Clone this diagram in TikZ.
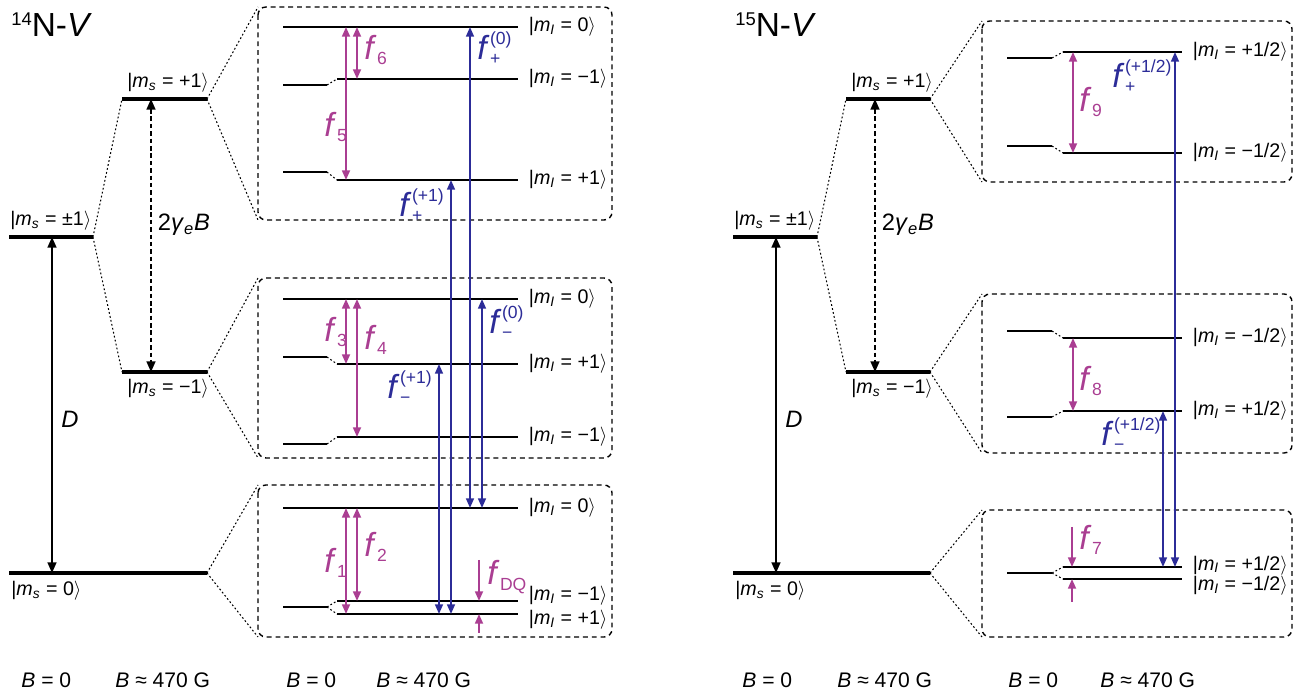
\documentclass[tikz,border=0pt]{standalone}
\usepackage{fontspec}
\setmainfont{Liberation Sans}
\usetikzlibrary{arrows.meta}

\definecolor{fmag}{RGB}{170,62,146}
\definecolor{fblue}{RGB}{44,44,152}

\newcommand{\msket}[1]{|\textit{m}\textsubscript{\textit{s}} = #1$\rangle$}
\newcommand{\miket}[1]{|\textit{m}\textsubscript{\textit{I}} = #1$\rangle$}
\newcommand{\fsm}[1]{{\fontsize{10}{10}\selectfont #1}}
\newcommand{\fn}[1]{\textit{f}\hspace{0.3pt}\raisebox{-3pt}{\fsm{#1}}}
\newcommand{\fpm}[2]{\textit{f}\hspace{0.3pt}\rlap{\raisebox{8.5pt}{\fsm{(#2)}}}\raisebox{-3pt}{\fsm{#1}}}

\tikzset{
  lvl/.style={line width=2.3pt},
  sublvl/.style={line width=1.1pt},
  conn/.style={line width=0.6pt, dash pattern=on 1pt off 1.3pt},
  zoombox/.style={line width=0.8pt, dash pattern=on 2.8pt off 2.2pt, rounded corners=4.5pt},
  darr/.style={line width=1pt, {Triangle[length=6pt,width=5pt]}-{Triangle[length=6pt,width=5pt]}},
  marr/.style={line width=1.1pt, fmag, {Triangle[length=5.5pt,width=4.5pt]}-{Triangle[length=5.5pt,width=4.5pt]}},
  mone/.style={line width=1.1pt, fmag, -{Triangle[length=5.5pt,width=4.5pt]}},
  barr/.style={line width=1pt, fblue, {Triangle[length=5.5pt,width=4.5pt]}-{Triangle[length=5.5pt,width=4.5pt]}},
  ket/.style={font=\fontsize{11.2}{13}\selectfont, inner sep=0pt},
  flab/.style={font=\fontsize{19}{21}\selectfont, inner sep=0pt},
  title/.style={font=\fontsize{19}{22}\selectfont, inner sep=0pt},
  blab/.style={font=\fontsize{12}{14}\selectfont, inner sep=0pt},
  big/.style={font=\fontsize{13.5}{16}\selectfont, inner sep=0pt},
}

\begin{document}
\begin{tikzpicture}[x=0.02cm, y=-0.02cm]
\useasboundingbox (0,0) rectangle (1296,692);

% ---------- 14N-V ----------
\node[title, anchor=base west] (t14) at (11,37) {\raisebox{6.5pt}{\fontsize{10.5}{11}\selectfont 14}N-\textit{V}};

\coordinate (Apml) at (9,237);  \coordinate (Apmr) at (93,237);
\coordinate (Apl) at (122,99);  \coordinate (Apr) at (207,99);
\coordinate (Aml) at (122,372); \coordinate (Amr) at (207,372);
\coordinate (A0l) at (9,573);   \coordinate (A0r) at (207,573);
\draw[lvl] (Apml) -- (Apmr);
\draw[lvl] (Apl) -- (Apr);
\draw[lvl] (Aml) -- (Amr);
\draw[lvl] (A0l) -- (A0r);
\draw[conn] (Apmr) -- (Apl) (Apmr) -- (Aml);
\node[ket, anchor=south west] (kApm) at (10,231) {\msket{±1}};
\node[ket, anchor=south west] (kAp) at (127,93) {\msket{+1}};
\node[ket, anchor=north west] (kAm) at (127,379) {\msket{−1}};
\node[ket, anchor=north west] (kA0) at (11,581) {\msket{0}};
\draw[darr] (52,0 |- Apml) -- (52,0 |- A0l);
\node[big] (dA) at (70,419) {\textit{D}};
\draw[darr, dash pattern=on 2.6pt off 1.6pt] (151,0 |- Apl) -- (151,0 |- Aml);
\node[big] (gA) at (184,225) {2\textit{γ}\textsubscript{\textit{e}}\textit{B}};

% ms = +1 manifold
\coordinate (B1a) at (258,7); \coordinate (B1b) at (612,220);
\draw[zoombox] (B1a) rectangle (B1b);
\draw[conn] (Apr) -- (B1a) (Apr) -- (B1a |- B1b);
\draw[sublvl] (283,27) -- (518,27) coordinate (u0);
\draw[sublvl] (283,85) -- (327,85) coordinate (umx);
\draw[sublvl] (337,79) coordinate (uml) -- (518,79) coordinate (um);
\draw[sublvl] (283,172) -- (327,172) coordinate (upx);
\draw[sublvl] (337,180) coordinate (upl) -- (518,180) coordinate (up);
\draw[conn] (umx) -- (uml) (upx) -- (upl);
\node[ket, anchor=west] (ku0) at ([xshift=6pt]u0) {\miket{0}};
\node[ket, anchor=west] (kum) at ([xshift=6pt]um) {\miket{−1}};
\node[ket, anchor=west] (kup) at ([xshift=6pt]up) {\miket{+1}};
\draw[marr] (346,0 |- u0) -- (346,0 |- up);
\draw[marr] (357,0 |- u0) -- (357,0 |- um);
\node[flab, fmag, anchor=west] (f5) at (324,127) {\fn{5}};
\node[flab, fmag, anchor=west] (f6) at (364,50) {\fn{6}};

% ms = -1 manifold
\coordinate (B2a) at (258,278); \coordinate (B2b) at (612,458);
\draw[zoombox] (B2a) rectangle (B2b);
\draw[conn] (Amr) -- (B2a) (Amr) -- (B2a |- B2b);
\draw[sublvl] (283,299) -- (518,299) coordinate (m0);
\draw[sublvl] (283,357) -- (327,357) coordinate (mpx);
\draw[sublvl] (337,364) coordinate (mpl) -- (518,364) coordinate (mp);
\draw[sublvl] (283,444) -- (327,444) coordinate (mmx);
\draw[sublvl] (337,437) coordinate (mml) -- (518,437) coordinate (mm);
\draw[conn] (mpx) -- (mpl) (mmx) -- (mml);
\node[ket, anchor=west] (km0) at ([xshift=6pt]m0) {\miket{0}};
\node[ket, anchor=west] (kmp) at ([xshift=6pt]mp) {\miket{+1}};
\node[ket, anchor=west] (kmm) at ([xshift=6pt]mm) {\miket{−1}};
\draw[marr] (346,0 |- m0) -- (346,0 |- mp);
\draw[marr] (357,0 |- m0) -- (357,0 |- mm);
\node[flab, fmag, anchor=west] (f3) at (324,332) {\fn{3}};
\node[flab, fmag, anchor=west] (f4) at (364,340) {\fn{4}};

% ms = 0 manifold
\coordinate (B3a) at (258,485); \coordinate (B3b) at (612,637);
\draw[zoombox] (B3a) rectangle (B3b);
\draw[conn] (A0r) -- (B3a) (A0r) -- (B3a |- B3b);
\draw[sublvl] (283,508) -- (518,508) coordinate (g0);
\draw[sublvl] (283,607) -- (327,607) coordinate (gx);
\draw[sublvl] (337,601) coordinate (gml) -- (518,601) coordinate (gm);
\draw[sublvl] (337,614) coordinate (gpl) -- (518,614) coordinate (gp);
\draw[conn] (gx) -- (gml) (gx) -- (gpl);
\node[ket, anchor=west] (kg0) at ([xshift=6pt]g0) {\miket{0}};
\node[ket, anchor=west] (kgm) at ([xshift=6pt, yshift=3pt]gm) {\miket{−1}};
\node[ket, anchor=west] (kgp) at ([xshift=6pt, yshift=-3.5pt]gp) {\miket{+1}};
\draw[marr] (346,0 |- g0) -- (346,0 |- gp);
\draw[marr] (357,0 |- g0) -- (357,0 |- gm);
\node[flab, fmag, anchor=west] (f1) at (324,563) {\fn{1}};
\node[flab, fmag, anchor=west] (f2) at (364,547) {\fn{2}};
\coordinate (dqa) at (479,560); \coordinate (dqb) at (479,633);
\draw[mone] (dqa) -- (479,0 |- gm);
\draw[mone] (dqb) -- (479,0 |- gp);
\node[flab, fmag, anchor=west] (fdq) at (487,577) {\fn{DQ}};

% nuclear-spin-conserving transitions
\draw[barr] (470,0 |- g0) -- (470,0 |- u0);
\draw[barr] (482,0 |- g0) -- (482,0 |- m0);
\draw[barr] (451,0 |- gp) -- (451,0 |- up);
\draw[barr] (439,0 |- gp) -- (439,0 |- mp);
\node[flab, fblue, anchor=west] (fp0) at (477,48) {\fpm{+}{0}};
\node[flab, fblue, anchor=west] (fm0) at (489,322) {\fpm{−}{0}};
\node[flab, fblue, anchor=west] (fpp) at (399,205) {\fpm{+}{+1}};
\node[flab, fblue, anchor=west] (fmp) at (387,387) {\fpm{−}{+1}};

% ---------- 15N-V ----------
\node[title, anchor=base west] (t15) at (735,37) {\raisebox{6.5pt}{\fontsize{10.5}{11}\selectfont 15}N-\textit{V}};

\coordinate (Cpml) at (733,237); \coordinate (Cpmr) at (817,237);
\coordinate (Cpl) at (846,99);   \coordinate (Cpr) at (930,99);
\coordinate (Cml) at (846,372);  \coordinate (Cmr) at (930,372);
\coordinate (C0l) at (733,573);  \coordinate (C0r) at (930,573);
\draw[lvl] (Cpml) -- (Cpmr);
\draw[lvl] (Cpl) -- (Cpr);
\draw[lvl] (Cml) -- (Cmr);
\draw[lvl] (C0l) -- (C0r);
\draw[conn] (Cpmr) -- (Cpl) (Cpmr) -- (Cml);
\node[ket, anchor=south west] (kCpm) at (734,231) {\msket{±1}};
\node[ket, anchor=south west] (kCp) at (851,93) {\msket{+1}};
\node[ket, anchor=north west] (kCm) at (851,379) {\msket{−1}};
\node[ket, anchor=north west] (kC0) at (735,581) {\msket{0}};
\draw[darr] (776,0 |- Cpml) -- (776,0 |- C0l);
\node[big] (dC) at (794,419) {\textit{D}};
\draw[darr, dash pattern=on 2.6pt off 1.6pt] (875,0 |- Cpl) -- (875,0 |- Cml);
\node[big] (gC) at (908,225) {2\textit{γ}\textsubscript{\textit{e}}\textit{B}};

% ms = +1 manifold
\coordinate (B4a) at (982,21); \coordinate (B4b) at (1292,182);
\draw[zoombox] (B4a) rectangle (B4b);
\draw[conn] (Cpr) -- (B4a) (Cpr) -- (B4a |- B4b);
\draw[sublvl] (1007,58) -- (1052,58) coordinate (rupx);
\draw[sublvl] (1063,52) coordinate (rupl) -- (1182,52) coordinate (rup);
\draw[sublvl] (1007,146) -- (1052,146) coordinate (rumx);
\draw[sublvl] (1063,153) coordinate (ruml) -- (1182,153) coordinate (rum);
\draw[conn] (rupx) -- (rupl) (rumx) -- (ruml);
\node[ket, anchor=west] (krup) at ([xshift=6pt]rup) {\miket{+1/2}};
\node[ket, anchor=west] (krum) at ([xshift=6pt]rum) {\miket{−1/2}};
\draw[marr] (1073,0 |- rup) -- (1073,0 |- rum);
\node[flab, fmag, anchor=west] (f9) at (1079,102) {\fn{9}};

% ms = -1 manifold
\coordinate (B5a) at (982,294); \coordinate (B5b) at (1292,453);
\draw[zoombox] (B5a) rectangle (B5b);
\draw[conn] (Cmr) -- (B5a) (Cmr) -- (B5a |- B5b);
\draw[sublvl] (1007,331) -- (1052,331) coordinate (rmmx);
\draw[sublvl] (1063,338) coordinate (rmml) -- (1182,338) coordinate (rmm);
\draw[sublvl] (1007,417) -- (1052,417) coordinate (rmpx);
\draw[sublvl] (1063,411) coordinate (rmpl) -- (1182,411) coordinate (rmp);
\draw[conn] (rmmx) -- (rmml) (rmpx) -- (rmpl);
\node[ket, anchor=west] (krmm) at ([xshift=6pt]rmm) {\miket{−1/2}};
\node[ket, anchor=west] (krmp) at ([xshift=6pt]rmp) {\miket{+1/2}};
\draw[marr] (1073,0 |- rmm) -- (1073,0 |- rmp);
\node[flab, fmag, anchor=west] (f8) at (1079,381) {\fn{8}};

% ms = 0 manifold
\coordinate (B6a) at (982,510); \coordinate (B6b) at (1292,637);
\draw[zoombox] (B6a) rectangle (B6b);
\draw[conn] (C0r) -- (B6a) (C0r) -- (B6a |- B6b);
\draw[sublvl] (1007,573) -- (1052,573) coordinate (rgx);
\draw[sublvl] (1063,567) coordinate (rgpl) -- (1182,567) coordinate (rgp);
\draw[sublvl] (1063,579) coordinate (rgml) -- (1182,579) coordinate (rgm);
\draw[conn] (rgx) -- (rgpl) (rgx) -- (rgml);
\node[ket, anchor=west] (krgp) at ([xshift=6pt, yshift=1pt]rgp) {\miket{+1/2}};
\node[ket, anchor=west] (krgm) at ([xshift=6pt, yshift=-4pt]rgm) {\miket{−1/2}};
\coordinate (f7a) at (1072,527); \coordinate (f7b) at (1072,602);
\draw[mone] (f7a) -- (1072,0 |- rgp);
\draw[mone] (f7b) -- (1072,0 |- rgm);
\node[flab, fmag, anchor=west] (f7) at (1079,540) {\fn{7}};

\draw[barr] (1175,0 |- rgp) -- (1175,0 |- rup);
\draw[barr] (1163,0 |- rgp) -- (1163,0 |- rmp);
\node[flab, fblue, anchor=west] (fph) at (1112,76) {\fpm{+}{+1/2}};
\node[flab, fblue, anchor=west] (fmh) at (1101,434) {\fpm{−}{+1/2}};

% field labels
\node[blab, anchor=base west] (b1) at (21,687) {\textit{B} = 0};
\node[blab, anchor=base west] (b2) at (115,687) {\textit{B} ≈ 470 G};
\node[blab, anchor=base west] (b3) at (286,687) {\textit{B} = 0};
\node[blab, anchor=base west] (b4) at (376,687) {\textit{B} ≈ 470 G};
\node[blab, anchor=base west] (b5) at (742,687) {\textit{B} = 0};
\node[blab, anchor=base west] (b6) at (837,687) {\textit{B} ≈ 470 G};
\node[blab, anchor=base west] (b7) at (1008,687) {\textit{B} = 0};
\node[blab, anchor=base west] (b8) at (1100,687) {\textit{B} ≈ 470 G};
\end{tikzpicture}
\end{document}
